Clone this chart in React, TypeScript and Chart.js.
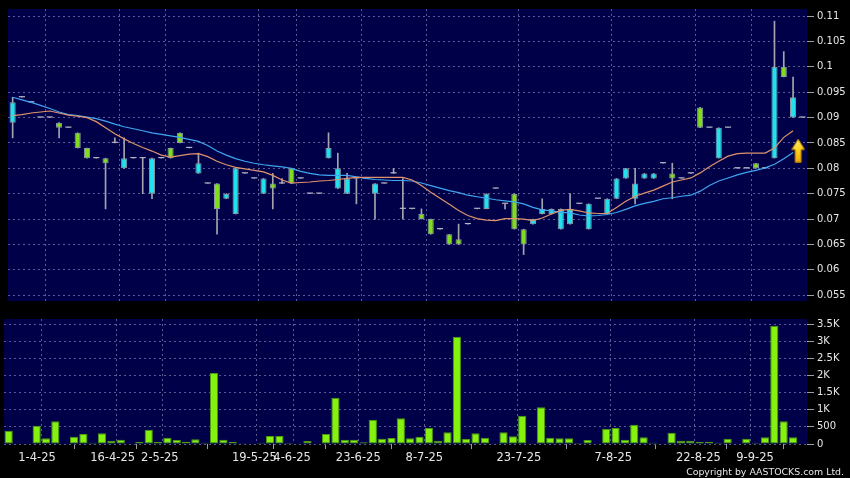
import React, { useEffect, useRef } from 'react';
import { Chart, registerables } from 'chart.js';

Chart.register(...registerables);

// ---- data (one entry per trading-day slot) ----
const SLOTS = Array.from({ length: 86 }, (_, i) => i);

const OPEN = [
  0.089, 0.094, 0.093, 0.090, 0.090, 0.089, 0.088, 0.087, 0.084, 0.082,
  0.082, 0.085, 0.080, 0.082, 0.082, 0.075, 0.082, 0.084, 0.087, 0.084,
  0.079, 0.077, 0.077, 0.074, 0.071, 0.079, 0.078, 0.075, 0.077, 0.077,
  0.080, 0.078, 0.075, 0.075, 0.082, 0.076, 0.075, 0.078, 0.078, 0.075,
  0.077, 0.079, 0.072, 0.072, 0.071, 0.070, 0.068, 0.067, 0.066, 0.069,
  0.072, 0.072, 0.076, 0.073, 0.075, 0.068, 0.069, 0.071, 0.071, 0.068,
  0.069, 0.073, 0.068, 0.074, 0.071, 0.074, 0.078, 0.074, 0.078, 0.078,
  0.081, 0.079, 0.078, 0.079, 0.092, 0.088, 0.082, 0.088, 0.080, 0.080,
  0.081, 0.080, 0.082, 0.100, 0.090, 0.090,
];
const HIGH = [
  0.094, 0.094, 0.093, 0.090, 0.090, 0.089, 0.088, 0.087, 0.084, 0.082,
  0.082, 0.086, 0.086, 0.082, 0.082, 0.082, 0.082, 0.084, 0.087, 0.084,
  0.083, 0.077, 0.077, 0.075, 0.080, 0.079, 0.078, 0.078, 0.079, 0.078,
  0.080, 0.078, 0.075, 0.075, 0.087, 0.083, 0.079, 0.078, 0.078, 0.077,
  0.077, 0.080, 0.078, 0.072, 0.072, 0.070, 0.068, 0.067, 0.069, 0.069,
  0.072, 0.075, 0.076, 0.073, 0.075, 0.068, 0.070, 0.074, 0.072, 0.072,
  0.075, 0.073, 0.073, 0.074, 0.074, 0.078, 0.080, 0.080, 0.079, 0.079,
  0.081, 0.081, 0.078, 0.079, 0.092, 0.088, 0.088, 0.088, 0.080, 0.080,
  0.081, 0.080, 0.109, 0.103, 0.098, 0.090,
];
const LOW = [
  0.086, 0.094, 0.093, 0.090, 0.090, 0.086, 0.088, 0.084, 0.082, 0.082,
  0.072, 0.085, 0.080, 0.082, 0.075, 0.074, 0.082, 0.082, 0.085, 0.084,
  0.079, 0.077, 0.067, 0.074, 0.071, 0.079, 0.078, 0.075, 0.072, 0.077,
  0.077, 0.078, 0.075, 0.075, 0.082, 0.076, 0.075, 0.073, 0.078, 0.070,
  0.077, 0.079, 0.070, 0.072, 0.070, 0.067, 0.068, 0.065, 0.065, 0.069,
  0.072, 0.072, 0.076, 0.072, 0.068, 0.063, 0.069, 0.071, 0.071, 0.068,
  0.069, 0.073, 0.068, 0.074, 0.071, 0.074, 0.078, 0.073, 0.078, 0.078,
  0.081, 0.074, 0.078, 0.079, 0.088, 0.088, 0.082, 0.088, 0.080, 0.080,
  0.080, 0.080, 0.082, 0.098, 0.090, 0.090,
];
const CLOSE = [
  0.093, 0.094, 0.093, 0.090, 0.090, 0.088, 0.088, 0.084, 0.082, 0.082,
  0.081, 0.085, 0.082, 0.082, 0.082, 0.082, 0.082, 0.082, 0.085, 0.084,
  0.081, 0.077, 0.072, 0.075, 0.080, 0.079, 0.078, 0.078, 0.076, 0.077,
  0.077, 0.078, 0.075, 0.075, 0.084, 0.080, 0.078, 0.078, 0.078, 0.077,
  0.077, 0.079, 0.072, 0.072, 0.070, 0.067, 0.068, 0.065, 0.065, 0.069,
  0.072, 0.075, 0.076, 0.073, 0.068, 0.065, 0.070, 0.072, 0.072, 0.072,
  0.072, 0.073, 0.073, 0.074, 0.074, 0.078, 0.080, 0.077, 0.079, 0.079,
  0.081, 0.078, 0.078, 0.079, 0.088, 0.088, 0.088, 0.088, 0.080, 0.080,
  0.080, 0.080, 0.100, 0.098, 0.094, 0.090,
];
const VOLUME = [
  388, 0, 0, 534, 165, 661, 0, 214, 292, 39,
  311, 97, 126, 0, 58, 418, 58, 185, 117, 68,
  136, 39, 2071, 126, 58, 20, 0, 39, 233, 233,
  39, 0, 87, 0, 292, 1351, 126, 126, 49, 709,
  155, 175, 748, 165, 214, 467, 97, 340, 3130, 146,
  311, 185, 20, 340, 224, 826, 10, 1069, 185, 165,
  165, 29, 117, 0, 447, 467, 126, 564, 194, 39,
  15, 330, 97, 97, 58, 68, 39, 155, 0, 155,
  39, 194, 3450, 661, 194, 0,
];
const MA_SHORT = [
  0.0904, 0.0906, 0.0909, 0.0911, 0.0913, 0.0909, 0.0905, 0.0903, 0.0900, 0.0892,
  0.0880, 0.0868, 0.0858, 0.0849, 0.0841, 0.0834, 0.0826, 0.0822, 0.0825, 0.0828,
  0.0829, 0.0823, 0.0814, 0.0807, 0.0802, 0.0799, 0.0796, 0.0793, 0.0786, 0.0777,
  0.0771, 0.0772, 0.0773, 0.0775, 0.0776, 0.0778, 0.0780, 0.0782, 0.0782, 0.0782,
  0.0782, 0.0782, 0.0782, 0.0777, 0.0766, 0.0753, 0.0741, 0.0729, 0.0717, 0.0707,
  0.0701, 0.0698, 0.0697, 0.0701, 0.0701, 0.0700, 0.0697, 0.0702, 0.0710, 0.0717,
  0.0719, 0.0716, 0.0712, 0.0711, 0.0711, 0.0723, 0.0735, 0.0745, 0.0751, 0.0757,
  0.0765, 0.0773, 0.0777, 0.0781, 0.0791, 0.0803, 0.0814, 0.0824, 0.0829, 0.0830,
  0.0830, 0.0830, 0.0840, 0.0861, 0.0874,
];
const MA_LONG = [
  0.0940, 0.0935, 0.0930, 0.0924, 0.0918, 0.0911, 0.0906, 0.0904, 0.0901, 0.0898,
  0.0893, 0.0887, 0.0882, 0.0878, 0.0874, 0.0870, 0.0867, 0.0864, 0.0861, 0.0857,
  0.0853, 0.0845, 0.0834, 0.0826, 0.0819, 0.0814, 0.0810, 0.0807, 0.0805, 0.0803,
  0.0800, 0.0794, 0.0790, 0.0787, 0.0786, 0.0786, 0.0786, 0.0783, 0.0780, 0.0778,
  0.0777, 0.0776, 0.0776, 0.0775, 0.0771, 0.0766, 0.0761, 0.0756, 0.0752, 0.0747,
  0.0744, 0.0741, 0.0738, 0.0736, 0.0734, 0.0730, 0.0723, 0.0718, 0.0716, 0.0713,
  0.0712, 0.0708, 0.0706, 0.0707, 0.0709, 0.0713, 0.0719, 0.0726, 0.0731, 0.0735,
  0.0740, 0.0742, 0.0745, 0.0747, 0.0755, 0.0766, 0.0775, 0.0781, 0.0787, 0.0792,
  0.0796, 0.0801, 0.0808, 0.0819, 0.0831,
];
const SIGNAL_SLOT = [84.55];
const SIGNAL_PRICE = [0.0835];

const DATE_TICKS = [3.5, 11.5, 16.5, 26.5, 30.5, 37.5, 44.5, 54.5, 64.5, 73.5, 79.5];
const DATE_LABELS = ['1-4-25', '16-4-25', '2-5-25', '19-5-25', '4-6-25', '23-6-25', '8-7-25', '23-7-25', '7-8-25', '22-8-25', '9-9-25'];
const PRICE_TICKS = [0.055, 0.06, 0.065, 0.07, 0.075, 0.08, 0.085, 0.09, 0.095, 0.1, 0.105, 0.11];
const VOLUME_TICKS = [0, 500, 1000, 1500, 2000, 2500, 3000, 3500];

// ---- styles ----
const NAVY = '#000048';
const GRID = '#5a5a92';
const TICK = '#9a9aa8';
const TEXT = '#e6e6e6';
const UP = '#22e0ee';
const DOWN = '#80dc1e';
const DASH = '#b4b4c4';
const WICK = '#a4a4ae';
const BODY_EDGE = '#8c9aa4';
const VOL_FILL = '#84f20e';
const VOL_EDGE = '#4c9a12';
const MA_SHORT_COLOR = '#e0926c';
const MA_LONG_COLOR = '#3ea6f0';
const FONT = '"DejaVu Sans", sans-serif';

const navyBg = {
  id: 'navyBg',
  beforeDraw(chart: any) {
    const { ctx, chartArea: a } = chart;
    ctx.save();
    ctx.fillStyle = NAVY;
    ctx.fillRect(a.left, a.top, a.right - a.left, a.bottom - a.top);
    ctx.restore();
  },
};

function makeArrow(): HTMLCanvasElement {
  const c = document.createElement('canvas');
  c.width = 14;
  c.height = 24;
  const g = c.getContext('2d')!;
  const grad = g.createLinearGradient(0, 0, 14, 24);
  grad.addColorStop(0, '#fff48a');
  grad.addColorStop(0.5, '#ffd21c');
  grad.addColorStop(1, '#e89a00');
  g.beginPath();
  g.moveTo(7, 0.5);
  g.lineTo(13.5, 11);
  g.lineTo(10, 11);
  g.lineTo(10, 23.5);
  g.lineTo(4, 23.5);
  g.lineTo(4, 11);
  g.lineTo(0.5, 11);
  g.closePath();
  g.fillStyle = grad;
  g.fill();
  g.strokeStyle = '#b07800';
  g.lineWidth = 1;
  g.stroke();
  return c;
}

const P_MIN = 0.05385;
const P_MAX = 0.1114;
const V_MAX = 3646;

const xGridOnly = () => ({
  type: 'linear' as const,
  min: -0.5,
  max: 85.5,
  offset: false,
  grid: { color: GRID, drawTicks: false, offset: false, lineWidth: 1 },
  border: { display: false, dash: [2, 3] },
  ticks: { display: false },
  afterBuildTicks: (s: any) => {
    s.ticks = DATE_TICKS.map((v) => ({ value: v }));
  },
  afterFit: (s: any) => {
    s.height = 0;
  },
});

export default function App() {
  const topRef = useRef<HTMLCanvasElement>(null);
  const botRef = useRef<HTMLCanvasElement>(null);

  useEffect(() => {
    const arrow = makeArrow();
    const bodyColor = SLOTS.map((i) => (CLOSE[i] > OPEN[i] ? UP : CLOSE[i] < OPEN[i] ? DOWN : DASH));
    const bodyBorderW = SLOTS.map((i) => (CLOSE[i] === OPEN[i] ? 0 : 1));

    const top = new Chart(topRef.current!, {
      type: 'bar',
      data: {
        datasets: [
          {
            type: 'line',
            label: 'signal',
            data: SIGNAL_SLOT.map((x, k) => ({ x, y: SIGNAL_PRICE[k] })),
            pointStyle: arrow as any,
            pointRadius: 7,
            showLine: false,
            order: -1,
          } as any,
          {
            type: 'line',
            label: 'MA short',
            data: MA_SHORT.map((y, i) => ({ x: SLOTS[i], y })),
            borderColor: MA_SHORT_COLOR,
            borderWidth: 1.2,
            pointRadius: 0,
            tension: 0,
            order: 0,
          },
          {
            type: 'line',
            label: 'MA long',
            data: MA_LONG.map((y, i) => ({ x: SLOTS[i], y })),
            borderColor: MA_LONG_COLOR,
            borderWidth: 1.2,
            pointRadius: 0,
            tension: 0,
            order: 0,
          },
          {
            type: 'bar',
            label: 'body',
            data: SLOTS.map((i) => ({ x: i, y: [OPEN[i], CLOSE[i]] })) as any,
            backgroundColor: bodyColor,
            borderColor: BODY_EDGE,
            borderWidth: bodyBorderW,
            borderSkipped: false,
            grouped: false,
            barPercentage: 0.66,
            categoryPercentage: 1,
            minBarLength: 1.2,
            order: 1,
          } as any,
          {
            type: 'bar',
            label: 'wick',
            data: SLOTS.map((i) => ({ x: i, y: [LOW[i], HIGH[i]] })) as any,
            backgroundColor: WICK,
            borderWidth: 0,
            grouped: false,
            barThickness: 1,
            order: 2,
          } as any,
        ],
      },
      options: {
        responsive: false,
        animation: false,
        events: [],
        layout: { padding: { left: 4, top: 6, bottom: 4, right: 0 } },
        plugins: { legend: { display: false }, tooltip: { enabled: false } },
        scales: {
          x: xGridOnly() as any,
          y: {
            position: 'right',
            min: P_MIN,
            max: P_MAX,
            grid: { color: GRID, tickColor: TICK, tickLength: 7, tickBorderDash: [] } as any,
            border: { display: false, dash: [2, 3] },
            ticks: {
              color: TEXT,
              font: { family: FONT, size: 10 },
              padding: 3,
              callback: (v: any) => String(Number(Number(v).toFixed(3))),
            },
            afterBuildTicks: (s: any) => {
              s.ticks = PRICE_TICKS.map((v) => ({ value: v }));
            },
            afterFit: (s: any) => {
              s.width = 43;
            },
          } as any,
        },
      },
      plugins: [navyBg],
    });

    const bot = new Chart(botRef.current!, {
      type: 'bar',
      data: {
        datasets: [
          {
            type: 'bar',
            label: 'volume',
            data: SLOTS.map((i) => ({ x: i, y: VOLUME[i] })) as any,
            backgroundColor: VOL_FILL,
            borderColor: VOL_EDGE,
            borderWidth: VOLUME.map((v) => (v > 0 ? 1 : 0)),
            borderSkipped: false,
            barPercentage: 0.88,
            categoryPercentage: 1,
          } as any,
        ],
      },
      options: {
        responsive: false,
        animation: false,
        events: [],
        layout: { padding: { left: 4, top: 9, bottom: 0, right: 0 } },
        plugins: { legend: { display: false }, tooltip: { enabled: false } },
        scales: {
          x: xGridOnly() as any,
          x2: {
            type: 'linear',
            position: 'bottom',
            min: 0,
            max: 85,
            offset: false,
            grid: { drawOnChartArea: false, drawTicks: true, tickLength: 5, tickColor: TICK, color: TICK } as any,
            border: { display: false },
            ticks: {
              color: TEXT,
              font: { family: FONT, size: 11.5 },
              padding: 2,
              autoSkip: false,
              maxRotation: 0,
              minRotation: 0,
              callback: (_v: any, idx: number) => DATE_LABELS[idx],
            },
            afterBuildTicks: (s: any) => {
              s.ticks = DATE_TICKS.map((v) => ({ value: v }));
            },
            afterFit: (s: any) => {
              s.height = 34;
            },
          } as any,
          y: {
            position: 'right',
            min: 0,
            max: V_MAX,
            grid: { color: GRID, tickColor: TICK, tickLength: 7, tickBorderDash: [] } as any,
            border: { display: false, dash: [2, 3] },
            ticks: {
              color: TEXT,
              font: { family: FONT, size: 10 },
              padding: 3,
              callback: (v: any) => (v >= 1000 ? `${v / 1000}K` : String(v)),
            },
            afterBuildTicks: (s: any) => {
              s.ticks = VOLUME_TICKS.map((v) => ({ value: v }));
            },
            afterFit: (s: any) => {
              s.width = 43;
            },
          } as any,
        },
      },
      plugins: [navyBg],
    });

    return () => {
      top.destroy();
      bot.destroy();
    };
  }, []);

  return (
    <div
      style={{
        position: 'fixed',
        left: 0,
        top: 0,
        width: 850,
        height: 478,
        background: '#000',
        overflow: 'hidden',
      }}
    >
      <canvas ref={topRef} width={850} height={310} style={{ position: 'absolute', left: 0, top: 0 }} />
      <canvas ref={botRef} width={850} height={168} style={{ position: 'absolute', left: 0, top: 310 }} />
      <div
        style={{
          position: 'absolute',
          right: 6,
          top: 467,
          font: `9.4px ${FONT}`,
          lineHeight: '10px',
          color: TEXT,
          whiteSpace: 'nowrap',
        }}
      >
        Copyright by AASTOCKS.com Ltd.
      </div>
    </div>
  );
}
